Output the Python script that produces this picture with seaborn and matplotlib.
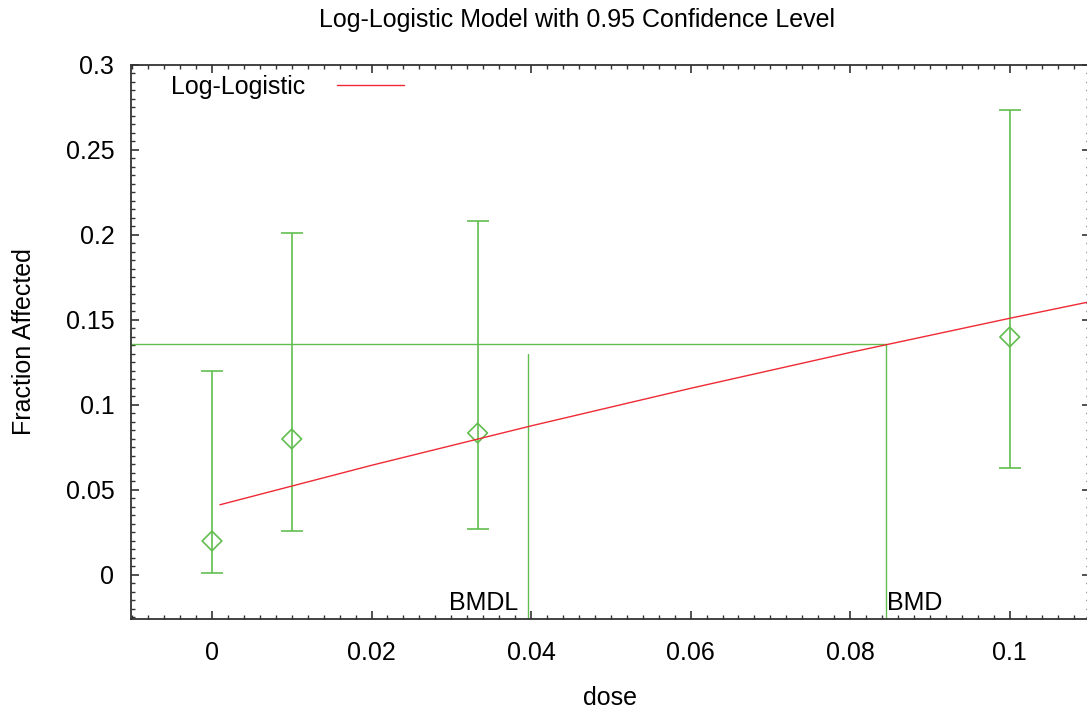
import numpy as np
import pandas as pd
import matplotlib
matplotlib.use("Agg")
import matplotlib.pyplot as plt
from matplotlib.ticker import MultipleLocator
import seaborn as sns

# ---- data ----
dose = [0.0, 0.01, 0.0333, 0.1]
frac_mean = [0.020, 0.080, 0.0835, 0.140]
frac_lower = [0.001, 0.026, 0.027, 0.063]
frac_upper = [0.120, 0.201, 0.2085, 0.2735]

model_dose = [0.001, 0.02, 0.04, 0.06, 0.08, 0.10, 0.11]
model_frac = [0.0413, 0.0645, 0.0877, 0.1098, 0.1309, 0.1510, 0.1607]

bmr_level = 0.136
bmd = 0.0845
bmdl = 0.0396
bmdl_top = 0.130

title = "Log-Logistic Model with 0.95 Confidence Level"
xlabel = "dose"
ylabel = "Fraction Affected"
legend_label = "Log-Logistic"

# ---- style ----
sns.set_theme(style="ticks")
plt.rcParams["font.family"] = ["Liberation Sans", "DejaVu Sans"]
plt.rcParams["text.color"] = "black"
plt.rcParams["axes.labelcolor"] = "black"
plt.rcParams["xtick.labelcolor"] = "black"
plt.rcParams["ytick.labelcolor"] = "black"

GREEN = "#62bd4f"
RED = "#ee2a35"
SPINE = "#333333"

W, H = 1087, 717
fig = plt.figure(figsize=(W / 100, H / 100), dpi=100)
ax = fig.add_axes([131 / W, 1 - 619 / H, (1089.5 - 131) / W, (619 - 65) / H])

xmin, xmax = -0.01015, 0.1100
ymin, ymax = -0.0259, 0.300
ax.set_xlim(xmin, xmax)
ax.set_ylim(ymin, ymax)

obs = pd.DataFrame({"dose": dose, "mean": frac_mean,
                    "lower": frac_lower, "upper": frac_upper})
mod = pd.DataFrame({"dose": model_dose, "frac": model_frac})

# error bars
ax.errorbar(obs["dose"], obs["mean"],
            yerr=[obs["mean"] - obs["lower"], obs["upper"] - obs["mean"]],
            fmt="none", ecolor=GREEN, elinewidth=1.2, capsize=8, capthick=1.2,
            zorder=2)
# means
sns.scatterplot(data=obs, x="dose", y="mean", marker="D", s=100,
                facecolor="none", edgecolor=GREEN, linewidth=1.2, ax=ax,
                zorder=3, legend=False)
# model curve
sns.lineplot(data=mod, x="dose", y="frac", color=RED, linewidth=1.0, ax=ax,
             label=legend_label, zorder=4)

# BMD / BMDL lines
ax.plot([xmin, bmd], [bmr_level, bmr_level], color=GREEN, lw=1.0, zorder=2)
ax.plot([bmd, bmd], [ymin, bmr_level], color=GREEN, lw=1.0, zorder=2)
ax.plot([bmdl, bmdl], [ymin, bmdl_top], color=GREEN, lw=1.0, zorder=2)

ax.annotate("BMDL", xy=(bmdl, ymin), xytext=(-7, 3), textcoords="offset points",
            ha="right", va="bottom", fontsize=18, color="black")
ax.annotate("BMD", xy=(bmd, ymin), xytext=(1, 3), textcoords="offset points",
            ha="left", va="bottom", fontsize=18, color="black")

# ticks
ax.xaxis.set_major_locator(MultipleLocator(0.02))
ax.xaxis.set_minor_locator(MultipleLocator(0.002))
ax.yaxis.set_major_locator(MultipleLocator(0.05))
ax.yaxis.set_minor_locator(MultipleLocator(0.005))
ax.set_xticks([0, 0.02, 0.04, 0.06, 0.08, 0.1])
ax.set_xticklabels(["0", "0.02", "0.04", "0.06", "0.08", "0.1"])
ax.set_yticks([0, 0.05, 0.1, 0.15, 0.2, 0.25, 0.3])
ax.set_yticklabels(["0", "0.05", "0.1", "0.15", "0.2", "0.25", "0.3"])
ax.tick_params(which="both", direction="in", top=True, right=True,
               color=SPINE, labelsize=18, labelcolor="black")
ax.tick_params(which="major", length=6, width=1.2)
ax.tick_params(which="minor", length=3, width=1.0)
ax.tick_params(axis="x", which="major", pad=16)
ax.tick_params(axis="y", which="major", pad=12)
for s in ax.spines.values():
    s.set_color(SPINE)
    s.set_linewidth(1.3)

ax.set_xlabel(xlabel, fontsize=18, labelpad=15, color="black")
ax.set_ylabel(ylabel, fontsize=18, labelpad=21, color="black")

leg = ax.legend(loc="upper left", frameon=False, markerfirst=False,
                fontsize=18, handlelength=2.65, handletextpad=1.3,
                borderaxespad=0.0, bbox_to_anchor=(0.031, 1.0))
for t in leg.get_texts():
    t.set_color("black")

fig.text(577 / W, 1 - 20 / H, title, ha="center", va="center", fontsize=18,
         color="black")

fig.savefig("out.png", dpi=100)
